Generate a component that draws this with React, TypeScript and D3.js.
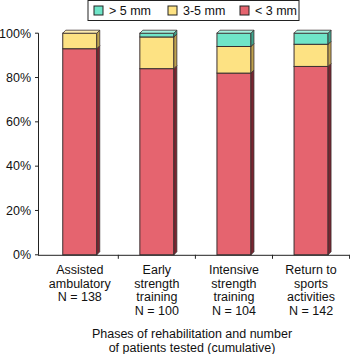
import React from "react";
import * as d3 from "d3";

const categories = [
  ["Assisted", "ambulatory", "N = 138"],
  ["Early", "strength", "training", "N = 100"],
  ["Intensive", "strength", "training", "N = 104"],
  ["Return to", "sports", "activities", "N = 142"],
];
const lt3 = [93, 84, 82, 85];
const mid35 = [7, 14.3, 12, 10];
const gt5 = [0, 1.7, 6, 5];
const yTicks = [0, 20, 40, 60, 80, 100];
const seriesNames = ["> 5 mm", "3-5 mm", "< 3 mm"];

const W = 350;
const H = 354;
const FONT = "'Liberation Sans', Arial, Helvetica, sans-serif";

const colors = {
  lt3: { front: "#E5646F", side: "#7A2530", top: "#EE8A93" },
  mid: { front: "#FDE283", side: "#BFA24E", top: "#FEEDB0" },
  gt5: { front: "#6FE5C8", side: "#3FA78E", top: "#A5F2DF" },
};

export default function App() {
  const x = d3
    .scaleBand<number>()
    .domain(d3.range(categories.length))
    .range([41.2, 349.6])
    .paddingInner(0)
    .paddingOuter(0);
  const y = d3.scaleLinear().domain([0, 100]).range([254.8, 33.2]);
  const barW = 34;
  const dep = 3;
  const stroke = "#3a2f30";

  const bars = categories.map((_, i) => {
    const cx = x(i)! + x.bandwidth() / 2;
    const x0 = cx - barW / 2;
    const x1 = cx + barW / 2;
    const segs = [
      { v0: 0, v1: lt3[i], c: colors.lt3 },
      { v0: lt3[i], v1: lt3[i] + mid35[i], c: colors.mid },
      { v0: lt3[i] + mid35[i], v1: lt3[i] + mid35[i] + gt5[i], c: colors.gt5 },
    ].filter((s) => s.v1 - s.v0 > 0);
    const topSeg = segs[segs.length - 1];
    return (
      <g key={i}>
        {segs.map((s, j) => {
          const yt = y(s.v1);
          const yb = y(s.v0);
          return (
            <g key={j}>
              <rect x={x0} y={yt} width={barW} height={yb - yt} fill={s.c.front} stroke={stroke} strokeWidth={1} />
              <path
                d={`M${x1},${yb} L${x1 + dep},${yb - dep} L${x1 + dep},${yt - dep} L${x1},${yt} Z`}
                fill={s.c.side}
                stroke={stroke}
                strokeWidth={0.8}
              />
            </g>
          );
        })}
        <path
          d={`M${x0},${y(100)} L${x0 + dep},${y(100) - dep} L${x1 + dep},${y(100) - dep} L${x1},${y(100)} Z`}
          fill={topSeg.c.top}
          stroke={stroke}
          strokeWidth={0.8}
        />
      </g>
    );
  });

  const legendItems = [
    { name: seriesNames[0], c: colors.gt5.front, sx: 94, tx: 109 },
    { name: seriesNames[1], c: colors.mid.front, sx: 168, tx: 183 },
    { name: seriesNames[2], c: colors.lt3.front, sx: 240, tx: 255 },
  ];

  return (
    <svg
      width={W}
      height={H}
      style={{ position: "absolute", left: 0, top: 0, background: "#fff" }}
      fontFamily={FONT}
    >
      <rect x={0} y={0} width={W} height={H} fill="#fff" />
      {/* legend */}
      <rect x={88} y={0.5} width={211} height={20} fill="#fff" stroke="#222" strokeWidth={1} />
      {legendItems.map((l) => (
        <g key={l.name}>
          <rect x={l.sx} y={6} width={9} height={9} fill={l.c} stroke="#222" strokeWidth={1} />
          <text x={l.tx} y={15} fontSize={12.5} fill="#111">
            {l.name}
          </text>
        </g>
      ))}
      {/* y axis */}
      <line x1={38.5} x2={38.5} y1={y(100)} y2={y(0)} stroke="#222" strokeWidth={1} />
      {yTicks.map((t) => (
        <g key={t}>
          <line x1={35} x2={38.5} y1={y(t)} y2={y(t)} stroke="#222" strokeWidth={1} />
          <text x={31} y={y(t) + 4.3} textAnchor="end" fontSize={12.5} fill="#111">
            {t}%
          </text>
        </g>
      ))}
      {bars}
      {/* x axis */}
      <line x1={38} x2={349.6} y1={y(0) + 0.5} y2={y(0) + 0.5} stroke="#222" strokeWidth={1} />
      {categories.map((_, i) => {
        const tx = x(i)! + x.bandwidth();
        return <line key={i} x1={tx} x2={tx} y1={y(0)} y2={y(0) + 4} stroke="#222" strokeWidth={1} />;
      })}
      {categories.map((lines, i) => {
        const cx = x(i)! + x.bandwidth() / 2;
        return (
          <text key={i} textAnchor="middle" fontSize={12.5} fill="#111">
            {lines.map((ln, k) => (
              <tspan key={k} x={cx} y={274 + k * 13.7}>
                {ln}
              </tspan>
            ))}
          </text>
        );
      })}
      <text textAnchor="middle" fontSize={12.5} fill="#111">
        <tspan x={192} y={337.5}>Phases of rehabilitation and number</tspan>
        <tspan x={192} y={351.5}>of patients tested (cumulative)</tspan>
      </text>
    </svg>
  );
}
